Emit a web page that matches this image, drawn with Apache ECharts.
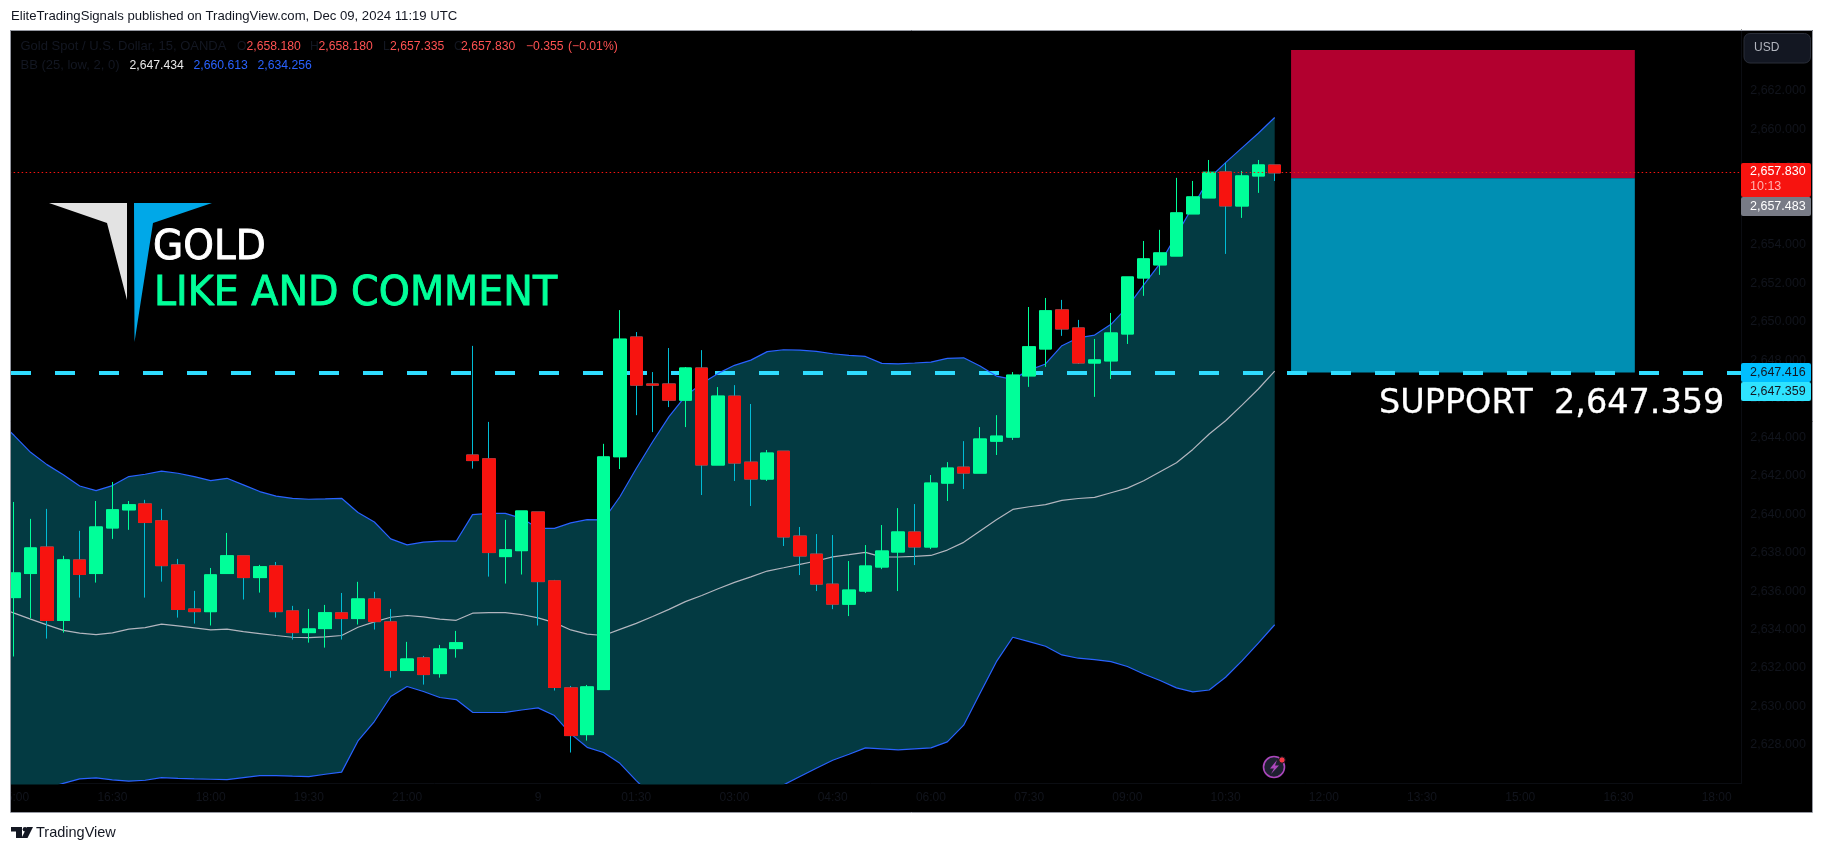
<!DOCTYPE html>
<html><head><meta charset="utf-8">
<style>html,body{margin:0;padding:0;background:#fff}#c{width:1825px;height:852px}</style>
<script src="https://cdn.jsdelivr.net/npm/echarts@6/dist/echarts.min.js"></script>
</head><body><div id="c"></div>
<script>
const categories = ["8 14:45","8 15:00","8 15:15","8 15:30","8 15:45","8 16:00","8 16:15","8 16:30","8 16:45","8 17:00","8 17:15","8 17:30","8 17:45","8 18:00","8 18:15","8 18:30","8 18:45","8 19:00","8 19:15","8 19:30","8 19:45","8 20:00","8 20:15","8 20:30","8 20:45","8 21:00","8 21:15","8 21:30","8 21:45","8 23:00","8 23:15","8 23:30","8 23:45","9 00:00","9 00:15","9 00:30","9 00:45","9 01:00","9 01:15","9 01:30","9 01:45","9 02:00","9 02:15","9 02:30","9 02:45","9 03:00","9 03:15","9 03:30","9 03:45","9 04:00","9 04:15","9 04:30","9 04:45","9 05:00","9 05:15","9 05:30","9 05:45","9 06:00","9 06:15","9 06:30","9 06:45","9 07:00","9 07:15","9 07:30","9 07:45","9 08:00","9 08:15","9 08:30","9 08:45","9 09:00","9 09:15","9 09:30","9 09:45","9 10:00","9 10:15","9 10:30","9 10:45","9 11:00","9 11:15","9 11:30","9 11:45","9 12:00","9 12:15","9 12:30","9 12:45","9 13:00","9 13:15","9 13:30","9 13:45","9 14:00","9 14:15","9 14:30","9 14:45","9 15:00","9 15:15","9 15:30","9 15:45","9 16:00","9 16:15","9 16:30","9 16:45","9 17:00","9 17:15","9 17:30","9 17:45","9 18:00","9 18:15"];
const tickLabels = {"8 15:00":"15:00","8 16:30":"16:30","8 18:00":"18:00","8 19:30":"19:30","8 21:00":"21:00","9 00:00":"9","9 01:30":"01:30","9 03:00":"03:00","9 04:30":"04:30","9 06:00":"06:00","9 07:30":"07:30","9 09:00":"09:00","9 10:30":"10:30","9 12:00":"12:00","9 13:30":"13:30","9 15:00":"15:00","9 16:30":"16:30","9 18:00":"18:00"};

const opens = [2636.00,2635.66,2636.91,2638.29,2634.47,2637.62,2636.91,2639.28,2640.22,2640.53,2639.65,2637.36,2635.07,2634.93,2636.91,2637.83,2636.70,2637.31,2634.97,2633.84,2634.05,2634.87,2634.57,2635.59,2634.40,2631.87,2632.53,2631.71,2633.01,2643.07,2642.87,2637.79,2638.10,2640.11,2636.53,2630.97,2628.54,2630.88,2642.98,2649.20,2646.76,2646.76,2645.92,2647.59,2642.55,2646.13,2642.70,2641.82,2643.27,2638.86,2637.92,2636.36,2635.32,2636.00,2637.25,2638.03,2639.07,2638.29,2641.61,2642.44,2642.13,2643.79,2644.00,2647.18,2648.58,2650.61,2649.67,2647.85,2647.96,2649.36,2652.27,2652.95,2653.41,2655.60,2656.43,2657.78,2656.01,2657.57,2658.14];
const closes = [2637.00,2636.94,2638.24,2634.47,2637.62,2636.86,2639.33,2640.22,2640.48,2639.56,2637.32,2635.04,2634.93,2636.84,2637.83,2636.70,2637.26,2634.93,2633.84,2634.03,2634.87,2634.57,2635.59,2634.41,2631.87,2632.47,2631.66,2632.99,2633.31,2642.78,2638.00,2638.14,2640.16,2636.49,2630.99,2628.49,2631.02,2642.97,2649.09,2646.70,2646.70,2645.92,2647.59,2642.55,2646.13,2642.65,2641.82,2643.17,2638.81,2637.82,2636.36,2635.32,2636.05,2637.30,2638.08,2639.07,2638.29,2641.61,2642.39,2642.13,2643.90,2644.05,2647.22,2648.69,2650.56,2649.62,2647.85,2648.01,2649.41,2652.32,2653.26,2653.57,2655.65,2656.48,2657.76,2656.01,2657.57,2658.14,2657.73];
const lows = [2635.50,2632.60,2634.59,2633.53,2633.84,2635.66,2636.44,2638.71,2639.18,2635.66,2636.49,2634.62,2634.31,2634.21,2636.91,2635.56,2635.92,2634.62,2633.48,2633.32,2633.06,2633.48,2634.26,2634.00,2631.50,2631.87,2631.14,2631.50,2632.54,2642.36,2636.75,2636.39,2636.86,2634.21,2630.83,2627.61,2628.23,2630.88,2642.34,2645.14,2644.26,2645.56,2644.52,2640.99,2642.55,2641.72,2640.42,2641.72,2638.34,2636.83,2636.00,2635.06,2634.70,2635.90,2637.14,2636.00,2637.35,2638.18,2640.68,2641.30,2642.13,2643.07,2643.85,2646.61,2647.65,2649.26,2647.80,2646.09,2647.02,2648.84,2651.34,2652.43,2653.41,2655.60,2656.43,2653.52,2655.39,2656.69,2657.31];
const highs = [2637.50,2640.63,2639.75,2640.27,2637.83,2639.13,2640.68,2641.67,2640.68,2640.74,2640.27,2637.67,2636.01,2637.20,2639.02,2637.83,2637.36,2637.51,2635.23,2635.07,2635.28,2635.90,2636.48,2635.96,2635.07,2633.36,2632.63,2633.20,2633.93,2648.74,2644.79,2639.70,2640.16,2640.11,2636.58,2631.07,2631.12,2643.65,2650.60,2649.46,2647.38,2648.63,2647.64,2648.52,2646.60,2646.70,2645.72,2643.33,2643.27,2639.33,2638.96,2638.91,2637.56,2638.39,2639.43,2640.31,2640.52,2642.03,2642.70,2643.79,2644.52,2645.14,2647.38,2650.76,2651.23,2651.13,2650.09,2649.10,2650.45,2652.32,2654.19,2654.77,2657.47,2657.31,2658.40,2658.25,2657.83,2658.40,2658.14];

const bbUpper = [2644.89,2644.08,2643.21,2642.57,2642.04,2641.46,2641.22,2641.48,2641.95,2642.07,2642.23,2642.12,2641.95,2641.74,2641.86,2641.52,2641.17,2640.93,2640.82,2640.77,2640.79,2640.82,2640.08,2639.59,2638.71,2638.40,2638.54,2638.59,2638.59,2639.97,2640.04,2640.04,2639.78,2639.26,2639.26,2639.54,2639.71,2639.70,2640.90,2642.37,2643.76,2645.06,2646.13,2646.79,2647.31,2647.73,2648.00,2648.44,2648.54,2648.52,2648.45,2648.33,2648.25,2648.19,2647.83,2647.81,2647.85,2647.90,2648.09,2648.12,2647.69,2647.17,2647.00,2647.48,2647.80,2648.75,2649.16,2649.30,2649.86,2650.75,2651.91,2653.03,2654.51,2655.98,2657.45,2658.26,2659.03,2659.79,2660.61];
const bbMiddle = [2635.19,2634.85,2634.54,2634.24,2633.96,2633.81,2633.74,2633.83,2634.02,2634.10,2634.28,2634.19,2634.09,2633.98,2634.02,2633.89,2633.79,2633.69,2633.60,2633.58,2633.62,2633.69,2634.12,2634.40,2634.64,2634.73,2634.66,2634.54,2634.48,2634.85,2634.88,2634.88,2634.78,2634.61,2634.36,2633.98,2633.76,2633.69,2634.01,2634.32,2634.68,2635.05,2635.45,2635.77,2636.12,2636.45,2636.74,2637.04,2637.21,2637.39,2637.56,2637.78,2637.89,2638.01,2637.78,2637.77,2637.80,2637.85,2638.13,2638.53,2639.12,2639.71,2640.24,2640.38,2640.49,2640.71,2640.81,2640.87,2641.11,2641.35,2641.73,2642.20,2642.67,2643.36,2644.16,2644.85,2645.66,2646.50,2647.43];
const bbLower = [2625.23,2625.41,2625.58,2625.75,2626.01,2626.24,2626.29,2626.19,2626.12,2626.17,2626.31,2626.27,2626.24,2626.22,2626.20,2626.31,2626.41,2626.41,2626.38,2626.36,2626.48,2626.59,2628.21,2629.22,2630.52,2631.04,2630.78,2630.47,2630.36,2629.70,2629.69,2629.70,2629.82,2629.93,2629.53,2628.58,2627.88,2627.61,2627.05,2626.15,2625.32,2624.80,2624.54,2624.45,2624.63,2624.80,2625.06,2625.49,2625.93,2626.36,2626.79,2627.21,2627.52,2627.85,2627.80,2627.75,2627.80,2627.85,2628.16,2629.03,2630.69,2632.33,2633.60,2633.37,2633.13,2632.68,2632.51,2632.44,2632.33,2632.08,2631.69,2631.35,2630.97,2630.76,2630.86,2631.52,2632.37,2633.29,2634.25];

const supportLevel = 2647.359;
const lastPriceLine = 2657.76;
const riskTop = 2664.115, riskMid = 2657.45, riskBottom = 2647.36;
const boxFromIndex = 79, boxToIndex = 100;

const UP = '#00ff99', DOWN = '#f7130f', DOWNWICK = '#00bcd4', TXT = '#131722', AXISTXT = '#11141c';
const FONT = '"Liberation Sans", Arial, sans-serif';
const ohlc = opens.map((o,i)=>[o,closes[i],lows[i],highs[i]]);
const bodies = opens.map((o,i)=>[o,closes[i],Math.min(o,closes[i]),Math.max(o,closes[i])]);
const bandWidth = bbUpper.map((u,i)=>u-bbLower[i]);

const txt=(text,x,y,fill,size,extra)=>Object.assign({type:'text',z:100,x,y,style:{text,fill,font:size+'px '+FONT,textVerticalAlign:'middle'}},extra||{});
const big=(text,x,y,fill,size,sx,stroke)=>({type:'text',z:100,x,y,scaleX:sx,style:{text,fill,stroke:fill,lineWidth:stroke,font:size+'px "DejaVu Sans", sans-serif',textVerticalAlign:'middle'}});
const poly=(points,fill,z)=>({type:'polygon',z:z||100,shape:{points},style:{fill}});
const rect=(x,y,w,h,fill,z,r)=>({type:'rect',z:z===undefined?100:z,shape:{x,y,width:w,height:h,r:r||0},style:{fill}});

const graphicEls = [
  rect(10,30,1803,782,'#000000',0),
  rect(0,0,10.5,852,'#ffffff',90),
  {type:'rect',z:95,shape:{x:10.5,y:30.5,width:1802,height:782},style:{fill:'none',stroke:'#9598a1',lineWidth:1}},
  txt('EliteTradingSignals published on TradingView.com, Dec 09, 2024 11:19 UTC',11,16.5,'#131722',13.15),
  txt('Gold Spot / U.S. Dollar, 15, OANDA',20.5,46.5,TXT,13),
  txt('O',237,46.5,TXT,12.2),txt('2,658.180',246.5,46.5,'#ff5252',12.2),
  txt('H',310,46.5,TXT,12.2),txt('2,658.180',318.5,46.5,'#ff5252',12.2),
  txt('L',383,46.5,TXT,12.2),txt('2,657.335',390,46.5,'#ff5252',12.2),
  txt('C',454,46.5,TXT,12.2),txt('2,657.830',461,46.5,'#ff5252',12.2),
  txt('\u22120.355',526,46.5,'#ff5252',12.2),txt('(\u22120.01%)',568,46.5,'#ff5252',12.2),
  txt('BB (25, low, 2, 0)',20.5,65.5,TXT,13),
  txt('2,647.434',129.5,65.5,'#e8e8e8',12.2),
  txt('2,660.613',193.5,65.5,'#2962ff',12.2),
  txt('2,634.256',257.5,65.5,'#2962ff',12.2),
  poly([[49,203],[127,203],[127,300],[107,223]],'#e3e3e3'),
  poly([[134,203],[212,203],[153,223],[134.5,342]],'#00a8e8'),
  big('GOLD',153,248.5,'#ffffff',40,0.975,0.9),
  big('LIKE AND COMMENT',154,295,UP,40,0.99,0.9),
  big('SUPPORT  2,647.359',1379,404.5,'#ffffff',33,1.014,0.3),
  {type:'rect',z:100,shape:{x:1744,y:33.5,width:66.5,height:29.5,r:6},style:{fill:TXT,stroke:'#2a2e39',lineWidth:1}},
  txt('USD',1754,48,'#b2b5be',12),
  rect(1741,163,70,34,DOWN,100,2),
  txt('2,657.830',1750,172,'#ffffff',12.5),
  txt('10:13',1750,187,'#ffb3b0',12.5),
  rect(1741,197,70,19,'#787b86',100,2),
  txt('2,657.483',1750,206.5,'#ffffff',12.5),
  rect(1741,363,70,19,'#00bfff',100,2),
  txt('2,647.416',1750,372.5,TXT,12.5),
  rect(1741,382,70,19,'#2fe3ff',101,2),
  txt('2,647.359',1750,391.5,TXT,12.5,{z:102}),
  {type:'circle',z:100,shape:{cx:1274,cy:767,r:10.5},style:{fill:'#1e2030',stroke:'#ab47bc',lineWidth:1.6}},
  poly([[1277,760],[1270,768.5],[1274,768.5],[1271,774],[1279,765.5],[1275,765.5]],'#ab47bc'),
  {type:'circle',z:101,shape:{cx:1282,cy:760,r:3.2},style:{fill:'#f23645',stroke:'#131722',lineWidth:1}},
  poly([[11,827],[22,827],[22,838],[16,838],[16,831.5],[11,831.5]],'#131722'),
  {type:'circle',z:100,shape:{cx:25,cy:829.3,r:2.3},style:{fill:'#131722'}},
  poly([[27,827],[33,827],[27.5,838],[21.5,838]],'#131722'),
  txt('TradingView',36,833,'#131722',14.5)
];

const chart = echarts.init(document.getElementById('c'),null,{renderer:'canvas'});
chart.setOption({
  animation:false,
  backgroundColor:'#ffffff',
  graphic:{elements:graphicEls},
  grid:{left:-10.35,top:30,width:1751.59,height:753.5,containLabel:false,show:false,outerBoundsMode:'none'},
  xAxis:{type:'category',data:categories,boundaryGap:true,z:1,
    axisLine:{show:true,lineStyle:{color:'#0b0d12',width:1}},axisTick:{show:false},splitLine:{show:false},
    axisLabel:{show:true,color:AXISTXT,fontFamily:FONT,fontSize:12,margin:8,hideOverlap:false,
      interval:(i,v)=>tickLabels[v]!==undefined,formatter:v=>tickLabels[v]||''}},
  yAxis:{type:'value',position:'right',min:2626,max:2665.154,interval:2,z:1,
    axisLine:{show:true,lineStyle:{color:'#0b0d12',width:1}},axisTick:{show:false},splitLine:{show:false},
    axisLabel:{color:AXISTXT,fontFamily:FONT,fontSize:12.5,margin:9,showMinLabel:false,showMaxLabel:false,
      formatter:v=>v.toLocaleString('en-US',{minimumFractionDigits:3,maximumFractionDigits:3})}},
  series:[
    {name:'BB lower',type:'line',stack:'bb',data:bbLower,showSymbol:false,symbol:'none',z:2,lineStyle:{opacity:0},silent:true,clip:true,
      markArea:{silent:true,z:2,label:{show:false},data:[
        [{coord:[boxFromIndex,riskTop],itemStyle:{color:'#b2002f',opacity:1}},{coord:[boxToIndex,riskMid]}],
        [{coord:[boxFromIndex,riskMid],itemStyle:{color:'#008fb3',opacity:1}},{coord:[boxToIndex,riskBottom]}]
      ]}},
    {name:'BB fill',type:'line',stack:'bb',data:bandWidth,showSymbol:false,symbol:'none',z:2,lineStyle:{opacity:0},areaStyle:{color:'#033a42',opacity:1},silent:true,clip:true},
    {name:'Support',type:'line',data:[],z:3,silent:true,
      markLine:{silent:true,z:3,symbol:'none',label:{show:false},animation:false,
        lineStyle:{color:'#2fdcff',width:4,type:[20,24],dashOffset:22.65,opacity:1},data:[{yAxis:supportLevel}]}},
    {name:'BB upper line',type:'line',data:bbUpper,showSymbol:false,symbol:'none',z:4,lineStyle:{color:'#2962ff',width:1.2},silent:true,clip:true},
    {name:'BB lower line',type:'line',data:bbLower,showSymbol:false,symbol:'none',z:4,lineStyle:{color:'#2962ff',width:1.2},silent:true,clip:true},
    {name:'BB basis',type:'line',data:bbMiddle,showSymbol:false,symbol:'none',z:4,lineStyle:{color:'#b2b5be',width:1.2},silent:true,clip:true},
    {name:'Wicks',type:'candlestick',data:ohlc,barWidth:13,z:5,silent:true,
      itemStyle:{color:UP,color0:DOWN,borderColor:UP,borderColor0:DOWNWICK,borderWidth:1}},
    {name:'Bodies',type:'candlestick',data:bodies,barWidth:13,z:6,silent:true,
      itemStyle:{color:UP,color0:DOWN,borderColor:UP,borderColor0:DOWN,borderWidth:1}},
    {name:'Last price',type:'line',data:[],z:7,silent:true,
      markLine:{silent:true,z:7,symbol:'none',label:{show:false},animation:false,
        lineStyle:{color:'#f7130f',width:1,type:[1.5,2.5],opacity:1},data:[{yAxis:lastPriceLine}]}}
  ]
});
</script></body></html>
